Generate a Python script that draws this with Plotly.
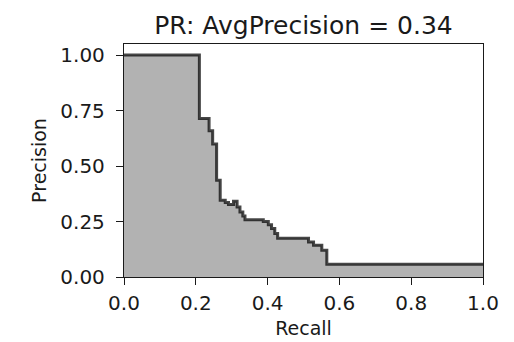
import plotly.graph_objects as go

# Step breakpoints (recall where each precision level starts) and precision levels
recall = [0.0, 0.210, 0.237, 0.247, 0.258, 0.268, 0.282, 0.291, 0.305, 0.315,
          0.323, 0.331, 0.337, 0.388, 0.402, 0.411, 0.420, 0.428, 0.514, 0.528,
          0.551, 0.565, 1.0]
precision = [1.0, 0.714, 0.659, 0.599, 0.436, 0.346, 0.336, 0.327, 0.341, 0.316,
             0.293, 0.275, 0.258, 0.250, 0.235, 0.218, 0.196, 0.175, 0.158, 0.143,
             0.120, 0.057, 0.057]

x_ticks = [0.0, 0.2, 0.4, 0.6, 0.8, 1.0]
y_ticks = [0.0, 0.25, 0.5, 0.75, 1.0]
title_text = "PR: AvgPrecision = 0.34"

FONT = "DejaVu Sans"
TXT = "#1a1a1a"

fig = go.Figure()
fig.add_trace(go.Scatter(
    x=recall, y=precision, mode="lines", line_shape="hv",
    line=dict(color="rgba(0,0,0,0.72)", width=3),
    fill="tozeroy", fillcolor="rgba(0,0,0,0.3)",
    hoverinfo="skip", showlegend=False,
))

axis_common = dict(
    showgrid=False, zeroline=False, showline=True, linecolor="#1a1a1a",
    linewidth=1.3, mirror=True, ticks="outside", ticklen=7, tickwidth=1.3,
    tickcolor="#1a1a1a", tickfont=dict(family=FONT, size=20, color=TXT),
    automargin=False,
)

fig.update_layout(
    width=514, height=342,
    margin=dict(l=116, r=39, t=36, b=73, autoexpand=False),
    paper_bgcolor="white", plot_bgcolor="white",
    title=dict(text=title_text, x=0.5, xref="paper", xanchor="center",
               y=1, yref="paper", yanchor="bottom", pad=dict(b=10),
               font=dict(family=FONT, size=25, color=TXT)),
    xaxis=dict(range=[0, 1], tickvals=x_ticks, tickformat=".1f",
               ticklabelstandoff=1,
               title=dict(text="Recall", standoff=7,
                          font=dict(family=FONT, size=19, color=TXT)),
               **axis_common),
    yaxis=dict(range=[0, 1.05], tickvals=y_ticks, tickformat=".2f",
               ticklabelstandoff=7,
               title=dict(text="Precision", standoff=8,
                          font=dict(family=FONT, size=19, color=TXT)),
               **axis_common),
)

fig.write_html("out.html")
